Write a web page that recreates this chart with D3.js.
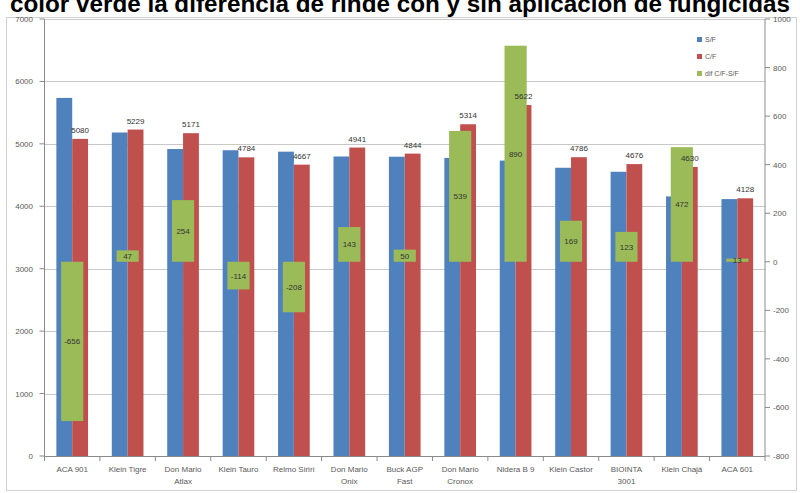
<!DOCTYPE html>
<html><head><meta charset="utf-8">
<script src="https://cdn.jsdelivr.net/npm/d3@7"></script>
<style>
html,body{margin:0;padding:0;background:#fff;}
svg{display:block;font-family:"Liberation Sans",Arial,sans-serif;}
</style></head>
<body>
<svg id="c" width="800" height="493"></svg>
<script>
const categories = [["ACA 901"],["Klein Tigre"],["Don Mario","Atlax"],["Klein Tauro"],["Relmo Sirirí"],["Don Mario","Onix"],["Buck AGP","Fast"],["Don Mario","Cronox"],["Nidera B 9"],["Klein Castor"],["BIOINTA","3001"],["Klein Chajá"],["ACA 601"]];
const sinFungicida = [5736,5182,4917,4898,4875,4798,4794,4775,4732,4617,4553,4158,4115];
const conFungicida = [5080,5229,5171,4784,4667,4941,4844,5314,5622,4786,4676,4630,4128];
const diferencia = [-656,47,254,-114,-208,143,50,539,890,169,123,472,13];
const leftTicks = [0,1000,2000,3000,4000,5000,6000,7000];
const rightTicks = [-800,-600,-400,-200,0,200,400,600,800,1000];
const seriesNames = ["S/F","C/F","dif C/F-S/F"];
const colors = ["#4F81BD","#C0504D","#9BBB59"];
const title = "color verde la diferencia de rinde con y sin aplicación de fungicidas";

const svg = d3.select("#c");
const L = 44.5, R = 765, T = 19, B = 456;
const keys = categories.map((c,i)=>i);
const x = d3.scaleBand().domain(keys).range([L,R]);
const yL = d3.scaleLinear().domain([0,7000]).range([B,T]);
const yR = d3.scaleLinear().domain([-800,1000]).range([B,T]);
const bw = x.bandwidth();
const grp = bw/1.75, sw = grp/2, off = (bw-grp)/2;
const gw = bw/2.5;

// outer chart border
svg.append("rect").attr("x",6.5).attr("y",17.5).attr("width",790).attr("height",473)
  .attr("fill","none").attr("stroke","#d0d0d0");

// gridlines
svg.append("g").selectAll("line").data(leftTicks).join("line")
  .attr("x1",L).attr("x2",R).attr("y1",d=>Math.round(yL(d))+0.5).attr("y2",d=>Math.round(yL(d))+0.5)
  .attr("stroke","#c8c8c8").attr("stroke-width",1);

// bars S/F and C/F
const g = svg.append("g");
g.selectAll(".sf").data(sinFungicida).join("rect")
  .attr("x",(d,i)=>x(i)+off).attr("width",sw)
  .attr("y",d=>yL(d)).attr("height",d=>B-yL(d)).attr("fill",colors[0]);
g.selectAll(".cf").data(conFungicida).join("rect")
  .attr("x",(d,i)=>x(i)+off+sw).attr("width",sw)
  .attr("y",d=>yL(d)).attr("height",d=>B-yL(d)).attr("fill",colors[1]);

// diff bars (secondary axis)
g.selectAll(".df").data(diferencia).join("rect")
  .attr("x",(d,i)=>x(i)+(bw-gw)/2).attr("width",gw)
  .attr("y",d=>Math.min(yR(d),yR(0))).attr("height",d=>Math.abs(yR(d)-yR(0))).attr("fill",colors[2]);

// labels C/F
g.selectAll(".cfl").data(conFungicida).join("text")
  .attr("x",(d,i)=>x(i)+off+sw*1.5).attr("y",d=>yL(d)-6)
  .attr("text-anchor","middle").attr("font-size",8).attr("fill","#333").text(d=>d);
// labels diff
g.selectAll(".dfl").data(diferencia).join("text")
  .attr("x",(d,i)=>x(i)+bw/2).attr("y",d=>(yR(d)+yR(0))/2+3)
  .attr("text-anchor","middle").attr("font-size",8).attr("fill","#333").text(d=>d);

// axes lines
const axc = "#8a8a8a";
svg.append("line").attr("x1",L).attr("x2",L).attr("y1",T).attr("y2",B).attr("stroke",axc);
svg.append("line").attr("x1",R).attr("x2",R).attr("y1",T).attr("y2",B).attr("stroke",axc);
svg.append("line").attr("x1",L).attr("x2",R).attr("y1",B+0.5).attr("y2",B+0.5).attr("stroke",axc);

// left ticks
svg.append("g").selectAll("line").data(leftTicks).join("line")
  .attr("x1",L-5).attr("x2",L).attr("y1",d=>yL(d)).attr("y2",d=>yL(d)).attr("stroke",axc);
svg.append("g").selectAll("text").data(leftTicks).join("text")
  .attr("x",33).attr("y",d=>yL(d)+3).attr("text-anchor","end")
  .attr("font-size",8).attr("fill","#595959").text(d=>d);
// right ticks
svg.append("g").selectAll("line").data(rightTicks).join("line")
  .attr("x1",R).attr("x2",R+5).attr("y1",d=>yR(d)).attr("y2",d=>yR(d)).attr("stroke",axc);
svg.append("g").selectAll("text").data(rightTicks).join("text")
  .attr("x",773).attr("y",d=>yR(d)+3).attr("text-anchor","start")
  .attr("font-size",8).attr("fill","#595959").text(d=>d);
// x ticks
svg.append("g").selectAll("line").data(keys.concat([13])).join("line")
  .attr("x1",d=>L+d*bw).attr("x2",d=>L+d*bw).attr("y1",B).attr("y2",B+5).attr("stroke",axc);
// x labels
const xl = svg.append("g").selectAll("text").data(categories).join("text")
  .attr("x",(d,i)=>x(i)+bw/2).attr("y",472).attr("text-anchor","middle")
  .attr("font-size",8).attr("fill","#595959");
xl.selectAll("tspan").data(d=>d).join("tspan")
  .attr("x",function(){return this.parentNode.getAttribute("x");})
  .attr("dy",(d,j)=>j===0?0:12).text(d=>d);

// legend
const lg = svg.append("g").attr("transform","translate(697,37)");
seriesNames.forEach((s,i)=>{
  lg.append("rect").attr("x",0).attr("y",i*17).attr("width",5).attr("height",5).attr("fill",colors[i]);
  lg.append("text").attr("x",8).attr("y",i*17+5).attr("font-size",7).attr("fill","#595959").text(s);
});

// title (clipped at top, as in the reference)
svg.append("text").attr("x",10).attr("y",12).attr("font-size",23).attr("font-weight","bold")
  .attr("fill","#000").attr("textLength",780).attr("lengthAdjust","spacingAndGlyphs").text(title);
</script>
</body></html>
